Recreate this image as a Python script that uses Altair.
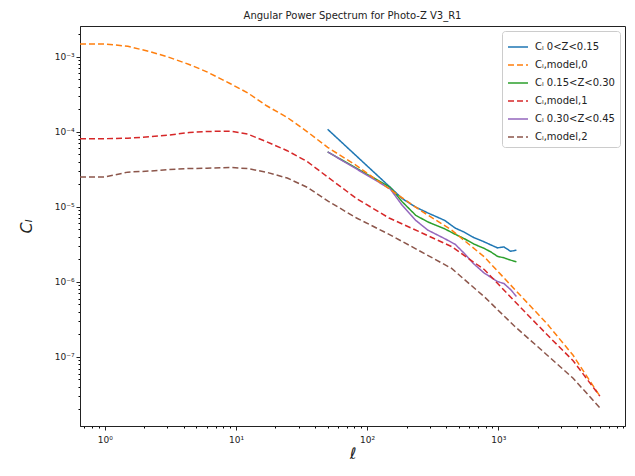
import altair as alt
import pandas as pd

# ---- data ----
ell_model = [0.647, 1, 1.5, 2.2, 3, 4.4, 6, 9, 12.3, 17, 24.6, 35, 50, 83, 147, 247, 441,
             785, 1320, 2340, 3720, 5950]
cl_model0 = [1.48e-3, 1.48e-3, 1.38e-3, 1.17e-3, 1.00e-3, 7.9e-4, 6.3e-4, 4.4e-4, 3.3e-4,
             2.24e-4, 1.55e-4, 1.0e-4, 6.2e-5, 3.55e-5, 1.74e-5, 9.3e-6, 4.9e-6, 2.14e-6,
             8.1e-7, 2.8e-7, 1.05e-7, 3.0e-8]
cl_model1 = [8.1e-5, 8.1e-5, 8.2e-5, 8.6e-5, 9.0e-5, 9.8e-5, 1.01e-4, 1.02e-4, 9.3e-5,
             7.4e-5, 5.6e-5, 4.0e-5, 2.5e-5, 1.29e-5, 7.1e-6, 4.7e-6, 2.95e-6, 1.45e-6,
             5.6e-7, 2.0e-7, 8.9e-8, 3.0e-8]
cl_model2 = [2.5e-5, 2.5e-5, 2.9e-5, 3.0e-5, 3.13e-5, 3.24e-5, 3.27e-5, 3.35e-5, 3.24e-5,
             2.9e-5, 2.42e-5, 1.82e-5, 1.20e-5, 7.1e-6, 4.3e-6, 2.63e-6, 1.51e-6, 6.3e-7,
             2.6e-7, 1.07e-7, 5.2e-8, 2.1e-8]

ell_data = [50, 150, 185, 235, 290, 390, 470, 550, 650, 785, 880, 985, 1105, 1240, 1375]
cl_data0 = [1.08e-4, 1.82e-5, 1.29e-5, 9.9e-6, 8.3e-6, 6.6e-6, 5.2e-6, 4.6e-6, 3.9e-6,
            3.4e-6, 3.1e-6, 2.84e-6, 2.92e-6, 2.56e-6, 2.64e-6]
cl_data1 = [5.4e-5, 1.82e-5, 1.17e-5, 7.7e-6, 6.3e-6, 5.1e-6, 4.3e-6, 3.77e-6, 3.2e-6,
            2.78e-6, 2.5e-6, 2.19e-6, 2.09e-6, 1.95e-6, 1.85e-6]
cl_data2 = [5.4e-5, 1.73e-5, 1.05e-5, 6.6e-6, 4.9e-6, 3.77e-6, 3.16e-6, 2.4e-6, 1.74e-6,
            1.30e-6, 1.15e-6, 1.01e-6, 9.5e-7, 7.9e-7, 6.4e-7]

series_names = ["Cₗ 0<Z<0.15", "Cₗ,model,0", "Cₗ 0.15<Z<0.30", "Cₗ,model,1",
                "Cₗ 0.30<Z<0.45", "Cₗ,model,2"]
series_colors = ["#1f77b4", "#ff7f0e", "#2ca02c", "#d62728", "#9467bd", "#8c564b"]
series_dashes = [[1, 0], [6, 3], [1, 0], [6, 3], [1, 0], [6, 3]]

x_major = [1, 10, 100, 1000]
x_minor = [0.7, 0.8, 0.9, 2, 3, 4, 5, 6, 7, 8, 9, 20, 30, 40, 50, 60, 70, 80, 90,
           200, 300, 400, 500, 600, 700, 800, 900, 2000, 3000, 4000, 5000, 6000, 7000,
           8000, 9000]
y_major = [1e-7, 1e-6, 1e-5, 1e-4, 1e-3]
y_minor = [2e-8, 3e-8, 4e-8, 5e-8, 6e-8, 7e-8, 8e-8, 9e-8,
           2e-7, 3e-7, 4e-7, 5e-7, 6e-7, 7e-7, 8e-7, 9e-7,
           2e-6, 3e-6, 4e-6, 5e-6, 6e-6, 7e-6, 8e-6, 9e-6,
           2e-5, 3e-5, 4e-5, 5e-5, 6e-5, 7e-5, 8e-5, 9e-5,
           2e-4, 3e-4, 4e-4, 5e-4, 6e-4, 7e-4, 8e-4, 9e-4, 2e-3]

# ---- tables ----
rows = []
for name, vals in [(series_names[1], cl_model0), (series_names[3], cl_model1),
                   (series_names[5], cl_model2)]:
    for l, c in zip(ell_model, vals):
        rows.append({"series": name, "ell": l, "cl": c})
models = pd.DataFrame(rows)

rows = []
for name, vals in [(series_names[0], cl_data0), (series_names[2], cl_data1),
                   (series_names[4], cl_data2)]:
    for l, c in zip(ell_data, vals):
        rows.append({"series": name, "ell": l, "cl": c})
measured = pd.DataFrame(rows)

FONT = "DejaVu Sans"
x_scale = alt.Scale(type="log", domain=[0.647, 9250], nice=False)
y_scale = alt.Scale(type="log", domain=[1.2e-8, 2.57e-3], nice=False)

color = alt.Color("series:N", scale=alt.Scale(domain=series_names, range=series_colors),
                  legend=alt.Legend(title=None))
dash = alt.StrokeDash("series:N", scale=alt.Scale(domain=series_names, range=series_dashes),
                      legend=alt.Legend(title=None))

x_lab = ("datum.value < 5 ? '10⁰' : datum.value < 50 ? '10¹' : "
         "datum.value < 500 ? '10²' : '10³'")
y_lab = ("datum.value < 5e-7 ? '10⁻⁷' : datum.value < 5e-6 ? '10⁻⁶' : "
         "datum.value < 5e-5 ? '10⁻⁵' : datum.value < 5e-4 ? '10⁻⁴' : '10⁻³'")

solid = alt.Chart(measured).mark_line(strokeWidth=1.5, clip=True).encode(
    x=alt.X("ell:Q", scale=x_scale,
            axis=alt.Axis(values=x_minor, labels=False, title="", grid=False, tickSize=2,
                          domain=False, orient="bottom", tickColor="#000")),
    y=alt.Y("cl:Q", scale=y_scale,
            axis=alt.Axis(values=y_minor, labels=False, title="", grid=False, tickSize=2,
                          domain=False, orient="left", tickColor="#000")),
    color=color, strokeDash=dash, order=alt.Order("ell:Q"),
)

dashed = alt.Chart(models).mark_line(strokeWidth=1.5, clip=True).encode(
    x=alt.X("ell:Q", scale=x_scale,
            axis=alt.Axis(values=x_major, labelExpr=x_lab, title="ℓ", grid=False,
                          tickSize=4, orient="bottom", labelPadding=5, titlePadding=1,
                          titleFontSize=16, titleFontStyle="italic",
                          titleFontWeight="normal")),
    y=alt.Y("cl:Q", scale=y_scale,
            axis=alt.Axis(values=y_major, labelExpr=y_lab, title="Cₗ", grid=False,
                          tickSize=4, orient="left", labelPadding=2, titlePadding=20,
                          titleFontSize=16, titleFontStyle="italic",
                          titleFontWeight="normal")),
    color=color, strokeDash=dash, order=alt.Order("ell:Q"),
)

chart = alt.layer(solid, dashed).resolve_axis(x="independent", y="independent").properties(
    width=545, height=400,
    title=alt.TitleParams("Angular Power Spectrum for Photo-Z V3_R1", fontSize=10,
                          font=FONT, fontWeight="normal", color="#222", offset=5,
                          anchor="middle", frame="group"),
    autosize=alt.AutoSizeParams(type="none"),
    padding={"left": 72, "top": 18, "right": 2, "bottom": 38},
    background="white",
).configure_view(
    stroke="#222", strokeWidth=1
).configure_axis(
    labelFont=FONT, labelFontSize=9, labelColor="#222", titleFont=FONT, titleColor="#222",
    domainColor="#222", tickColor="#222",
).configure_legend(
    orient="top-right", offset=5, padding=5, fillColor="white", strokeColor="#cccccc",
    cornerRadius=3, symbolType="stroke", symbolSize=400, symbolStrokeWidth=1.5,
    labelFont=FONT, labelFontSize=10, labelColor="#222", rowPadding=2, labelOffset=6,
)

chart.save("out.html", embed_options={"renderer": "svg", "actions": False})
